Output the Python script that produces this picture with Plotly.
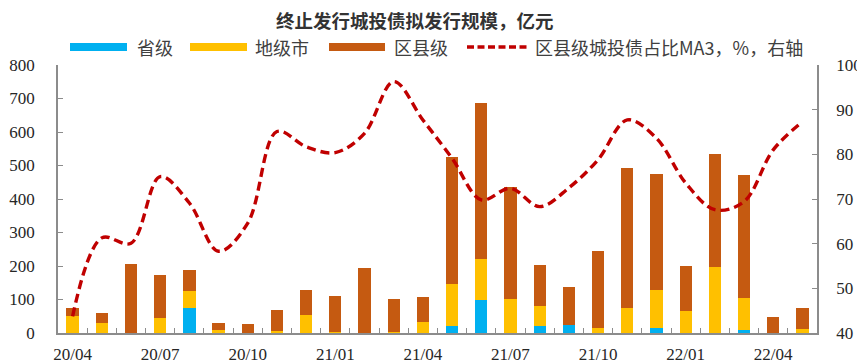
import plotly.graph_objects as go

months = ["20/04","20/05","20/06","20/07","20/08","20/09","20/10","20/11","20/12",
          "21/01","21/02","21/03","21/04","21/05","21/06","21/07","21/08","21/09",
          "21/10","21/11","21/12","22/01","22/02","22/03","22/04","22/05"]
tick_labels = ["20/04","20/07","20/10","21/01","21/04","21/07","21/10","22/01","22/04"]

provincial = [0,0,0,0,75,0,0,0,0, 0,0,0,0,22,99,0,20,23, 0,0,15,0,0,10,0,0]
prefecture = [50,30,0,45,49,8,0,7,53, 3,0,3,32,124,122,103,61,0, 15,74,114,66,196,94,0,12]
county     = [25,30,207,129,63,22,28,63,76, 106,194,100,75,379,467,334,121,113, 229,418,346,135,337,367,47,63]
county_share_ma3 = [43.7,61.3,60.1,75.0,69.1,58.3,64.6,85.1,81.7,
                    80.4,84.7,96.3,87.7,79.1,69.8,72.4,68.3,72.5,
                    78.8,87.7,83.6,73.6,67.6,69.4,81.0,87.3]

title_text = "终止发行城投债拟发行规模，亿元"
names = ["省级", "地级市", "区县级", "区县级城投债占比MA3，%，右轴"]
colors = ["#00B0F0", "#FFC000", "#C55A11", "#C00000"]

CJK = "Noto Sans CJK SC"
SERIF = "'Liberation Serif', serif"

# page body has an 8px margin; plot area target on screen: x 58..817, y 65..333
OFF = 8
W, H = 865 - OFF, 364 - OFF
PX0, PX1, PY0, PY1 = 58, 817, 65, 333

fig = go.Figure()
for vals, nm, c in zip([provincial, prefecture, county], names[:3], colors[:3]):
    fig.add_trace(go.Bar(x=months, y=vals, name=nm, marker=dict(color=c, line=dict(width=0)),
                         width=0.42, showlegend=False))
fig.add_trace(go.Scatter(x=months, y=county_share_ma3, name=names[3], yaxis="y2", mode="lines",
                         line=dict(color=colors[3], width=3.4, dash="9px,5px", shape="spline", smoothing=1.0),
                         showlegend=False))

ticktext = [m if m in tick_labels else "" for m in months]
axis_color = "#8C8C8C"
tick_font = dict(family=SERIF, size=17, color="#262626")
fig.update_layout(
    width=W, height=H,
    margin=dict(l=PX0 - OFF, r=W - (PX1 - OFF), t=PY0 - OFF, b=H - (PY1 - OFF), autoexpand=False),
    paper_bgcolor="white", plot_bgcolor="white",
    barmode="stack",
    xaxis=dict(type="category", tickvals=months, ticktext=ticktext, tickson="boundaries",
               tickangle=0, automargin=False, ticklabelstandoff=5,
               ticks="inside", ticklen=5, tickcolor=axis_color, showline=True, linecolor=axis_color,
               linewidth=1.5, showgrid=False, range=[-0.5, 25.5], tickfont=tick_font),
    yaxis=dict(range=[0, 800], dtick=100, ticks="inside", ticklen=5, tickcolor=axis_color,
               automargin=False, ticklabelstandoff=18,
               showline=True, linecolor=axis_color, linewidth=1.5, showgrid=False, zeroline=False,
               tickfont=tick_font),
    yaxis2=dict(range=[40, 100], dtick=10, overlaying="y", side="right", ticks="inside", ticklen=5,
                automargin=False, ticklabelstandoff=14,
                tickcolor=axis_color, showline=True, linecolor=axis_color, linewidth=1.5,
                showgrid=False, zeroline=False, tickfont=tick_font),
)

def px_x(p):
    return (p - PX0) / (PX1 - PX0)

def px_y(p):
    return (PY1 - p) / (PY1 - PY0)

# title as an annotation
fig.add_annotation(text="<b>" + title_text + "</b>", xref="paper", yref="paper", x=px_x(415),
                   y=px_y(20), xanchor="center", yanchor="middle", showarrow=False,
                   font=dict(family=CJK, size=18.5, color="#333333"))

# custom legend (long swatches as in the reference)
legend_items = [(70, 127, 135), (190, 247, 253), (329, 385, 392), (467, 528, 533)]
ly = 47
for i, (x0, x1, tx) in enumerate(legend_items):
    if i < 3:
        fig.add_shape(type="rect", xref="paper", yref="paper",
                      x0=px_x(x0), x1=px_x(x1), y0=px_y(ly + 4), y1=px_y(ly - 4),
                      fillcolor=colors[i], line=dict(width=0), layer="above")
    else:
        fig.add_shape(type="line", xref="paper", yref="paper",
                      x0=px_x(x0), x1=px_x(x1), y0=px_y(ly), y1=px_y(ly),
                      line=dict(color=colors[3], width=3.4, dash="7px,3.5px"))
    fig.add_annotation(text=names[i], xref="paper", yref="paper", x=px_x(tx),
                       y=px_y(ly), xanchor="left", yanchor="middle", showarrow=False,
                       font=dict(family=CJK, size=18, color="#404040"))

fig.write_html("out.html")
